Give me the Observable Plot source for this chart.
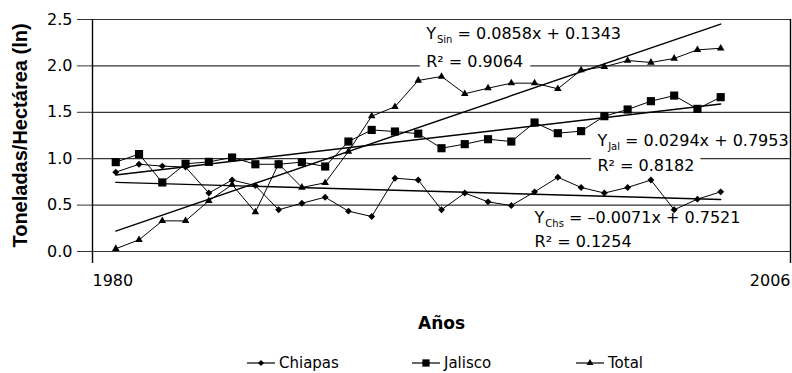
<!DOCTYPE html>
<html>
<head>
<meta charset="utf-8">
<script src="https://cdn.jsdelivr.net/npm/d3@7"></script>
<script src="https://cdn.jsdelivr.net/npm/@observablehq/plot@0.6"></script>
<style>
  html, body { margin: 0; padding: 0; background: #fff; }
  #chart { width: 792px; }
  #legend { position: relative; height: 33px; width: 792px; font-family: "DejaVu Sans", sans-serif; font-size: 15px; color: #000; }
  .item { position: absolute; top: 13px; display: flex; align-items: center; height: 20px; }
  .item svg { display: block; margin-right: 4px; }
</style>
</head>
<body>
<div id="chart"></div>
<div id="legend"></div>
<script>
// ---- data ----
const years = [1980,1981,1982,1983,1984,1985,1986,1987,1988,1989,1990,1991,1992,1993,
               1994,1995,1996,1997,1998,1999,2000,2001,2002,2003,2004,2005,2006];
const chiapas = [0.855,0.94,0.92,0.91,0.63,0.77,0.71,0.45,0.52,0.585,0.435,0.377,0.79,0.77,
                 0.45,0.63,0.535,0.495,0.643,0.80,0.69,0.63,0.69,0.77,0.45,0.564,0.643];
const jalisco = [0.963,1.05,0.744,0.945,0.966,1.013,0.94,0.94,0.963,0.916,1.185,1.31,1.293,1.27,
                 1.113,1.157,1.21,1.185,1.39,1.275,1.297,1.458,1.53,1.62,1.68,1.537,1.663];
const total = [0.03,0.126,0.33,0.33,0.546,0.72,0.424,0.945,0.69,0.74,1.078,1.458,1.56,1.843,
               1.886,1.70,1.76,1.814,1.814,1.753,1.954,1.99,2.058,2.037,2.08,2.173,2.19];
const seriesNames = ["Chiapas", "Jalisco", "Total"];
const seriesSymbols = ["diamond2", "square", "triangle"];
const seriesSizes = [3.1, 4.6, 2.8];
// trend lines as printed on the chart
const trendKeys = ["Chs", "Jal", "Sin"];
const trendSlopes = [-0.0071, 0.0294, 0.0858];
const trendIntercepts = [0.7521, 0.7953, 0.1343];
const eqLabels = ["Y_{Chs} = –0.0071x + 0.7521", "Y_{Jal} = 0.0294x + 0.7953", "Y_{Sin} = 0.0858x + 0.1343"];
const r2Labels = ["R² = 0.1254", "R² = 0.8182", "R² = 0.9064"];
const eqX = [19.0, 21.7, 14.34];
const eqY = [0.302, 1.142, 2.295];
const r2Y = [0.046, 0.865, 1.986];
const r2Halo = [false, true, true];
// axes
const yTicks = [0, 0.5, 1.0, 1.5, 2.0, 2.5];
const xTickPos = [0, 30];
const xTickLabels = ["1980", "2006"];
const yTitle = "Toneladas/Hectárea (ln)";
const xTitle = "Años";

// ---- build tables ----
const values = [chiapas, jalisco, total];
const rows = [];
values.forEach((arr, s) => arr.forEach((v, i) => rows.push({series: seriesNames[s], s, x: i + 1, year: years[i], y: v})));
const trendRows = [];
trendKeys.forEach((k, j) => [1, years.length].forEach(x => trendRows.push({key: k, x, y: trendSlopes[j] * x + trendIntercepts[j]})));
const eqRows = eqLabels.map((t, j) => ({x: eqX[j], y: eqY[j], text: t}));
const r2Rows = r2Labels.map((t, j) => ({x: eqX[j], y: r2Y[j], text: t, halo: r2Halo[j]}));

const font = "DejaVu Sans";
const plot = Plot.plot({
  width: 792,
  height: 340,
  marginLeft: 92,
  marginRight: 2,
  marginTop: 19,
  marginBottom: 89,
  style: {fontFamily: font, fontSize: "16px", color: "#000", background: "#fff", overflow: "visible"},
  x: {type: "linear", domain: [0, 30]},
  y: {domain: [0, 2.5]},
  marks: [
    Plot.gridY(yTicks, {stroke: "#333", strokeOpacity: 1, strokeWidth: 1.2}),
    Plot.axisY({ticks: yTicks, tickSize: 15, tickPadding: 5, tickFormat: d => d.toFixed(1), label: null, stroke: "#333", fontSize: 16}),
    Plot.ruleX(xTickPos, {stroke: "#000", strokeWidth: 1.4}),
    Plot.axisX({ticks: xTickPos, tickSize: 12, tickFormat: () => "", label: null, strokeWidth: 1.4}),
    Plot.text([0], {x: i => xTickPos[i], frameAnchor: "bottom", dy: 34, lineAnchor: "bottom", textAnchor: "start", text: i => xTickLabels[i], fontSize: 16}),
    Plot.text([1], {x: i => xTickPos[i], frameAnchor: "bottom", dy: 34, lineAnchor: "bottom", textAnchor: "end", text: i => xTickLabels[i], fontSize: 16}),
    Plot.text([xTitle], {frameAnchor: "bottom", dy: 77, lineAnchor: "bottom", fontFamily: "DejaVu Sans", fontWeight: "bold", fontSize: 17}),
    Plot.text([yTitle], {frameAnchor: "left", dx: -72, rotate: -90, textAnchor: "middle", lineAnchor: "middle", fontFamily: "Liberation Sans", fontWeight: "bold", fontSize: 20}),
    // annotations
    Plot.text(eqRows, {x: "x", y: "y", text: "text", textAnchor: "start", lineAnchor: "bottom", fontSize: 16, fill: "#000"}),
    Plot.text(r2Rows.filter(d => d.halo), {x: "x", y: "y", text: "text", textAnchor: "start", lineAnchor: "bottom", fontSize: 16, fill: "#000", stroke: "#fff", strokeWidth: 16, paintOrder: "stroke"}),
    Plot.text(r2Rows.filter(d => !d.halo), {x: "x", y: "y", text: "text", textAnchor: "start", lineAnchor: "bottom", fontSize: 16, fill: "#000"}),
    // trend lines
    Plot.line(trendRows, {x: "x", y: "y", z: "key", stroke: "#000", strokeWidth: 1.4}),
    // series
    Plot.line(rows, {x: "x", y: "y", z: "series", stroke: "#000", strokeWidth: 1}),
    ...seriesNames.map((name, s) => Plot.dot(rows.filter(d => d.s === s), {x: "x", y: "y", symbol: seriesSymbols[s], r: seriesSizes[s], fill: "#000", stroke: "none"}))
  ]
});

// subscripts: Y_{Sin} -> Y with small lowered "Sin"
const ns = "http://www.w3.org/2000/svg";
plot.querySelectorAll("text").forEach(t => {
  const m = t.textContent.match(/^(.*?)_\{(.+?)\}(.*)$/);
  if (!m) return;
  t.textContent = "";
  const a = document.createElementNS(ns, "tspan"); a.textContent = m[1];
  const b = document.createElementNS(ns, "tspan"); b.textContent = m[2];
  b.setAttribute("font-size", "10"); b.setAttribute("dy", "4"); b.setAttribute("dx", "1");
  const c = document.createElementNS(ns, "tspan"); c.textContent = m[3];
  c.setAttribute("dy", "-4");
  t.append(a, b, c);
});
document.getElementById("chart").append(plot);

// legend
const legend = document.getElementById("legend");
const legendLeft = [247, 412, 576];
seriesNames.forEach((name, s) => {
  const item = document.createElement("div");
  item.className = "item";
  item.style.left = legendLeft[s] + "px";
  const sv = d3.create("svg").attr("width", 28).attr("height", 14);
  sv.append("line").attr("x1", 0).attr("x2", 28).attr("y1", 7).attr("y2", 7).attr("stroke", "#000").attr("stroke-width", 1.2);
  const symMap = {diamond2: d3.symbolDiamond2, square: d3.symbolSquare, triangle: d3.symbolTriangle};
  sv.append("path").attr("transform", "translate(14,7)")
    .attr("d", d3.symbol(symMap[seriesSymbols[s]], Math.PI * seriesSizes[s] * seriesSizes[s] * 0.8)())
    .attr("fill", "#000");
  item.append(sv.node());
  const lab = document.createElement("span");
  lab.textContent = name;
  item.append(lab);
  legend.append(item);
});
</script>
</body>
</html>
